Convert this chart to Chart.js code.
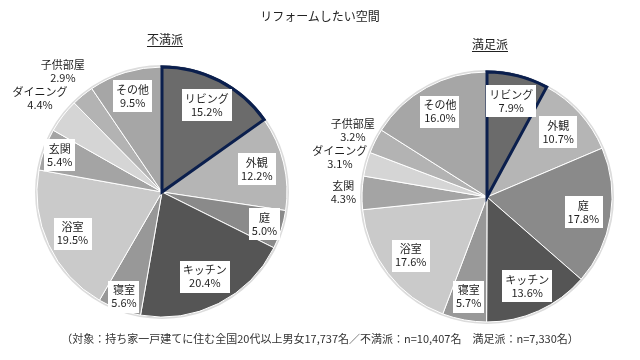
<!DOCTYPE html>
<html><head><meta charset="utf-8">
<script src="https://cdn.jsdelivr.net/npm/chart.js@4"></script>
<style>
html,body{margin:0;padding:0;background:#fff;width:640px;height:360px;overflow:hidden;font-family:"Noto Sans CJK JP","Noto Sans",sans-serif;color:#222;}
.abs{position:absolute;white-space:nowrap;}
#title{left:0;width:640px;top:8px;text-align:center;font-size:12px;line-height:16px;}
.hdr{font-size:12px;line-height:16px;text-decoration:underline;text-underline-offset:2px;width:120px;text-align:center;}
#h0{left:105px;top:31px;}
#h1{left:430px;top:36px;}
#foot{left:0;width:640px;top:330px;text-align:center;font-size:11px;line-height:16px;color:#333;}
canvas{position:absolute;top:0;left:0;}
</style></head>
<body>
<canvas id="c0" width="640" height="360"></canvas>
<canvas id="c1" width="640" height="360"></canvas>
<div id="title" class="abs"></div>
<div id="h0" class="abs hdr"></div>
<div id="h1" class="abs hdr"></div>
<div id="foot" class="abs"></div>
<script>
// ---- data ----
const chartTitle = "リフォームしたい空間";
const groupTitles = ["不満派", "満足派"];
const categories = ["リビング","外観","庭","キッチン","寝室","浴室","玄関","ダイニング","子供部屋","その他"];
const dissatisfiedValues = [15.2, 12.2, 5.0, 20.4, 5.6, 19.5, 5.4, 4.4, 2.9, 9.5];
const satisfiedValues = [7.9, 10.7, 17.8, 13.6, 5.7, 17.6, 4.3, 3.1, 3.2, 16.0];
const footnote = "（対象：持ち家一戸建てに住む全国20代以上男女17,737名／不満派：n=10,407名　満足派：n=7,330名）";

// ---- styles ----
const sliceColors = ["#6b6b6b","#b5b5b5","#8a8a8a","#555555","#989898","#cacaca","#a4a4a4","#d5d5d5","#b3b3b3","#a6a6a6"];
const highlightColor = "#0b1f4d";
// label radial factors (relative to outer radius); > 1 means outside, no box
const labelFactors0 = [0.78,0.78,0.86,0.76,0.89,0.79,0.87,1.23,1.25,0.80];
const labelFactors1 = [0.79,0.77,0.78,0.78,0.81,0.77,1.15,1.22,1.20,0.78];

document.getElementById('title').textContent = chartTitle;
document.getElementById('h0').textContent = groupTitles[0];
document.getElementById('h1').textContent = groupTitles[1];
document.getElementById('foot').textContent = footnote;

const labelPlugin = {
  id: 'sliceLabels',
  beforeDatasetsDraw(chart) {
    const meta = chart.getDatasetMeta(0);
    const a = meta.data[0];
    if (!a) return;
    const ctx = chart.ctx;
    ctx.save();
    ctx.beginPath();
    ctx.arc(a.x, a.y, a.outerRadius + 1, 0, Math.PI * 2);
    ctx.strokeStyle = '#dcdcdc';
    ctx.lineWidth = 2;
    ctx.stroke();
    ctx.restore();
  },
  afterDatasetsDraw(chart, args, opts) {
    const ctx = chart.ctx;
    const meta = chart.getDatasetMeta(0);
    const ds = chart.data.datasets[0];
    // redraw highlighted slice on top so its border is complete
    ctx.save();
    meta.data[0].draw(ctx);
    ctx.restore();
    const factors = opts.factors;
    ctx.save();
    ctx.font = '11px "Noto Sans CJK JP", sans-serif';
    ctx.textAlign = 'center';
    ctx.textBaseline = 'middle';
    const lh = 13;
    meta.data.forEach((arc, i) => {
      const p = arc.getProps(['x','y','startAngle','endAngle','outerRadius'], true);
      const mid = (p.startAngle + p.endAngle) / 2;
      const f = factors[i];
      const r = p.outerRadius * f;
      const cx = p.x + Math.cos(mid) * r;
      const cy = p.y + Math.sin(mid) * r;
      const l1 = chart.data.labels[i];
      const l2 = ds.data[i].toFixed(1) + '%';
      const w = Math.max(ctx.measureText(l1).width, ctx.measureText(l2).width);
      if (f < 1) {
        ctx.fillStyle = '#ffffff';
        ctx.fillRect(Math.round(cx - w / 2 - 3), Math.round(cy - lh - 3), Math.round(w + 6), lh * 2 + 6);
      }
      ctx.fillStyle = '#1e1e1e';
      ctx.fillText(l1, cx, cy - lh / 2);
      ctx.fillText(l2, cx, cy + lh / 2);
    });
    ctx.restore();
  }
};

function makePie(id, values, factors, pad) {
  const borderColors = categories.map((c, i) => i === 0 ? highlightColor : '#ffffff');
  const borderWidths = categories.map((c, i) => i === 0 ? 3 : 1);
  return new Chart(document.getElementById(id), {
    type: 'pie',
    data: {
      labels: categories,
      datasets: [{
        data: values,
        backgroundColor: sliceColors,
        borderColor: borderColors,
        borderWidth: borderWidths,
        borderJoinStyle: 'miter'
      }]
    },
    options: {
      responsive: false,
      animation: false,
      devicePixelRatio: 1,
      layout: { padding: pad },
      plugins: {
        legend: { display: false },
        tooltip: { enabled: false },
        sliceLabels: { factors: factors }
      }
    },
    plugins: [labelPlugin]
  });
}

makePie('c0', dissatisfiedValues, labelFactors0, {left: 35.5, top: 65.5, right: 351.5, bottom: 41.5});
makePie('c1', satisfiedValues, labelFactors1, {left: 360.5, top: 70.5, right: 26.5, bottom: 36.5});
</script>
</body></html>
